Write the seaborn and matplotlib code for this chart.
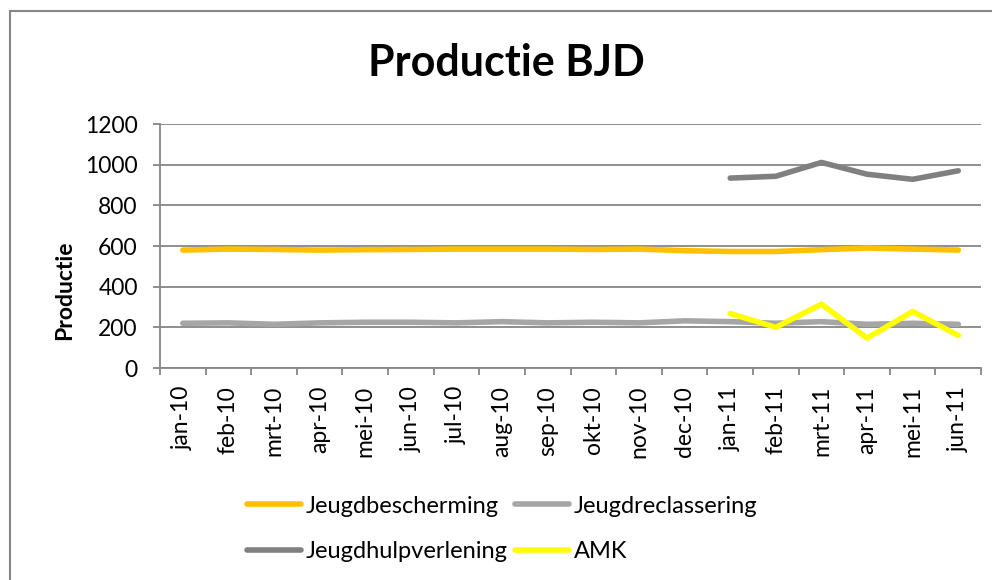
import numpy as np
import pandas as pd
import seaborn as sns
import matplotlib.pyplot as plt
from matplotlib.patches import Rectangle

maanden = ['jan-10', 'feb-10', 'mrt-10', 'apr-10', 'mei-10', 'jun-10', 'jul-10', 'aug-10', 'sep-10',
           'okt-10', 'nov-10', 'dec-10', 'jan-11', 'feb-11', 'mrt-11', 'apr-11', 'mei-11', 'jun-11']
jeugdbescherming = [580, 585, 583, 580, 582, 583, 585, 585, 585, 583, 585, 577, 573, 573, 582, 590, 585, 580]
jeugdreclassering = [220, 222, 215, 222, 225, 225, 222, 228, 222, 225, 222, 232, 228, 220, 228, 215, 220, 215]
jeugdhulpverlening = [np.nan] * 12 + [934, 943, 1011, 953, 928, 970]
amk = [np.nan] * 12 + [268, 200, 314, 147, 278, 160]

series = ['Jeugdbescherming', 'Jeugdreclassering', 'Jeugdhulpverlening', 'AMK']
kleuren = ['#FFC000', '#A6A6A6', '#808080', '#FFFF00']

df = pd.DataFrame({'maand': maanden, 'Jeugdbescherming': jeugdbescherming,
                   'Jeugdreclassering': jeugdreclassering,
                   'Jeugdhulpverlening': jeugdhulpverlening, 'AMK': amk})
df['pos'] = range(len(maanden))
lang = df.melt(id_vars=['maand', 'pos'], value_vars=series, var_name='reeks', value_name='productie')
lang = lang.dropna()

sns.set_style('white')
plt.rcParams['font.family'] = ['Lato', 'DejaVu Sans']
plt.rcParams['text.color'] = 'black'

fig = plt.figure(figsize=(9.92, 5.80), dpi=100)
ax = fig.add_axes([0.1613, 0.3655, 0.8277, 0.4207])

sns.lineplot(data=lang, x='pos', y='productie', hue='reeks', hue_order=series,
             palette=kleuren, linewidth=4, sort=False, ax=ax, legend=False)

ax.set_xlim(-0.5, len(maanden) - 0.5)
ax.set_ylim(0, 1200)
ax.set_yticks(range(0, 1201, 200))
ax.set_xticks(range(len(maanden)))
ax.set_xticklabels(maanden, rotation=90, fontsize=16.5, color='black')
ax.tick_params(axis='x', length=0, pad=13)
ax.tick_params(axis='y', labelsize=16.5, labelcolor='black', length=5, width=1.3,
               color='#868686', left=True, pad=11)
# streepjes tussen de categorieen
ax.set_xticks(np.arange(-0.5, len(maanden), 1), minor=True)
ax.tick_params(axis='x', which='minor', length=5, width=1.3, color='#868686', bottom=True)
ax.yaxis.grid(True, color='#868686', linewidth=1.3)
ax.set_axisbelow(True)
for kant in ['top', 'right']:
    ax.spines[kant].set_visible(False)
for kant in ['left', 'bottom']:
    ax.spines[kant].set_color('#868686')
    ax.spines[kant].set_linewidth(1.3)
ax.set_xlabel('')
ax.set_ylabel('Productie', fontsize=16.5, fontweight='bold', color='black')
ax.yaxis.set_label_coords(75 / 992, 0.5, transform=fig.transFigure)

fig.text(0.51, 0.891, 'Productie BJD', ha='center', va='center', fontsize=31, fontweight='bold')

# legenda rij voor rij: matplotlib vult per kolom
volgorde = [0, 2, 1, 3]
handles = [plt.Line2D([], [], color=kleuren[i], linewidth=4) for i in volgorde]
fig.legend(handles, [series[i] for i in volgorde], loc='center', bbox_to_anchor=(0.506, 0.088),
           ncol=2, frameon=False, fontsize=17, handlelength=2.3, handletextpad=0.2,
           columnspacing=0.3, labelspacing=1.05)

fig.patches.append(Rectangle((0.0096, -0.1), 1.2, 1.081, transform=fig.transFigure,
                             fill=False, edgecolor='#868686', linewidth=1.5))

plt.savefig('out.png', dpi=100)
